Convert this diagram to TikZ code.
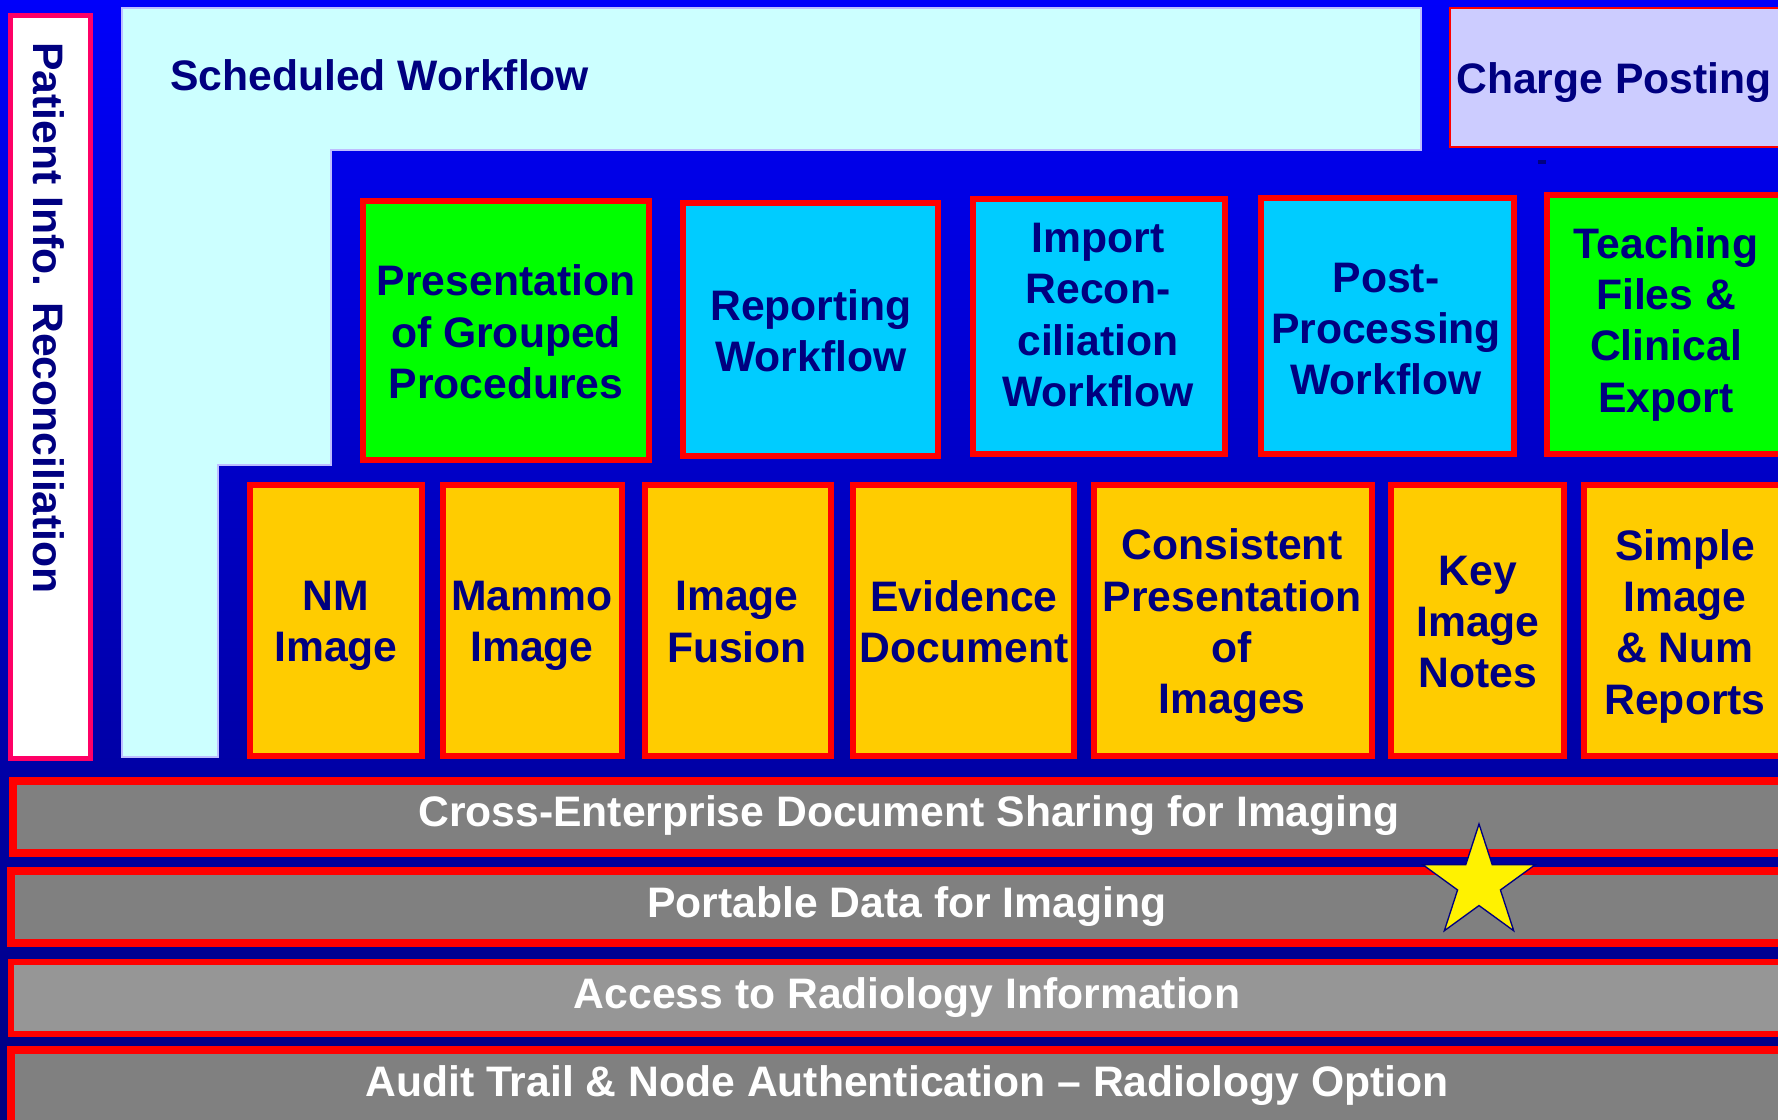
\documentclass[tikz,border=0pt]{standalone}
\usepackage{fontspec}
\setmainfont{Liberation Sans}
\usepackage{xcolor}
\usetikzlibrary{shapes.geometric}

\definecolor{navytxt}{RGB}{0,0,128}
\definecolor{bgtop}{RGB}{0,0,250}
\definecolor{bgbot}{RGB}{0,0,128}
\definecolor{swfill}{RGB}{204,255,255}
\definecolor{swline}{RGB}{190,190,255}
\definecolor{chgfill}{RGB}{204,204,255}
\definecolor{grnfill}{RGB}{0,255,0}
\definecolor{cyanfill}{RGB}{0,204,255}
\definecolor{orgfill}{RGB}{255,204,0}
\definecolor{greyfill}{RGB}{128,128,128}
\definecolor{ltgreyfill}{RGB}{150,150,150}
\definecolor{pinkline}{RGB}{255,0,102}

\tikzset{
  lbl/.style={text=navytxt, font=\bfseries\fontsize{32}{38.5}\selectfont, align=center, inner sep=0pt},
  barlbl/.style={text=white, font=\bfseries\fontsize{32}{38.5}\selectfont, inner sep=0pt},
  profbox/.style={draw=red, line width=4.5pt},
  barbox/.style={draw=red, line width=6pt},
}

\begin{document}
\begin{tikzpicture}[x=0.75pt, y=-0.75pt]
    \clip (0,0) rectangle (1778,1120);
    % Background
    \shade[top color=bgtop, bottom color=bgbot] (0,0) rectangle (1778,1120);

    % Patient Info. Reconciliation
    \draw[fill=white, draw=pinkline, line width=3.75pt] (10.5,15.5) rectangle (90.5,758.5);
    \node[lbl, rotate=-90, anchor=west] (pir) at (49,42) {Patient Info. Reconciliation};

    % Scheduled Workflow (L shape)
    \draw[fill=swfill, draw=swline, line width=1pt] (122,8) -- (1421,8) -- (1421,150) -- (331,150)
        -- (331,465) -- (218,465) -- (218,757) -- (122,757) -- cycle;
    \node[lbl, anchor=west] (swf) at (170,75) {Scheduled Workflow};

    % Charge Posting
    \draw[fill=chgfill, draw=red, line width=2pt] (1450,8) rectangle (1800,147);
    \node[lbl] (chg) at (1614,83) {Charge Posting};
    \fill[navytxt] (1538,160) rectangle (1546,164);

    % Top row
    \draw[profbox, fill=grnfill] (363,201) rectangle (649,460);
    \node[lbl] (pgp) at (506,332) {Presentation\\of Grouped\\Procedures};
    \draw[profbox, fill=cyanfill] (683,203) rectangle (938,456);
    \node[lbl] (rwf) at (811,331) {Reporting\\Workflow};
    \draw[profbox, fill=cyanfill] (973,199) rectangle (1225,454);
    \node[lbl] (irwf) at (1098,315) {Import\\Recon-\\ciliation\\Workflow};
    \draw[profbox, fill=cyanfill] (1261,198) rectangle (1514,454);
    \node[lbl] (ppwf) at (1386,329) {Post-\\Processing\\Workflow};
    \draw[profbox, fill=grnfill] (1547,195) rectangle (1795,454);
    \node[lbl] (tfce) at (1666,324) {Teaching\\Files \&\\Clinical\\Export};

    % Content row
    \draw[profbox, fill=orgfill] (250,485) rectangle (422,756);
    \node[lbl] (nm) at (336,626) {NM\\Image};
    \draw[profbox, fill=orgfill] (443,485) rectangle (622,756);
    \node[lbl] (mammo) at (532,626) {Mammo\\Image};
    \draw[profbox, fill=orgfill] (645,485) rectangle (831,756);
    \node[lbl] (fus) at (737,622) {Image\\Fusion};
    \draw[profbox, fill=orgfill] (853,485) rectangle (1074,756);
    \node[lbl] (ed) at (964,622) {Evidence\\Document};
    \draw[profbox, fill=orgfill] (1094,485) rectangle (1372,756);
    \node[lbl] (cpi) at (1232,626) {Consistent\\Presentation\\of\\Images};
    \draw[profbox, fill=orgfill] (1391,485) rectangle (1564,756);
    \node[lbl] (kin) at (1478,622) {Key\\Image\\Notes};
    \draw[profbox, fill=orgfill] (1584,485) rectangle (1795,756);
    \node[lbl] (sinr) at (1685,626) {Simple\\Image\\\& Num\\Reports};

    % Infrastructure bars
    \draw[barbox, fill=greyfill] (13,781) rectangle (1810,853);
    \node[barlbl] (xdsi) at (909,816) {Cross-Enterprise Document Sharing for Imaging};
    \draw[barbox, fill=greyfill] (11,871) rectangle (1810,943);
    \node[barlbl] (pdi) at (907,907) {Portable Data for Imaging};
    \draw[barbox, line width=4.5pt, fill=ltgreyfill] (11,962) rectangle (1810,1034);
    \node[barlbl] (ari) at (907,998) {Access to Radiology Information};
    \draw[barbox, fill=greyfill] (11,1050) rectangle (1810,1130);
    \node[barlbl] (atna) at (907,1086) {Audit Trail \& Node Authentication -- Radiology Option};

    % New
    \node[star, star points=5, star point ratio=2.618, minimum size=88.5pt, inner sep=0pt,
          fill=yellow, draw=navytxt, line width=1pt] (newstar) at (1479,883) {};
\end{tikzpicture}
\end{document}
